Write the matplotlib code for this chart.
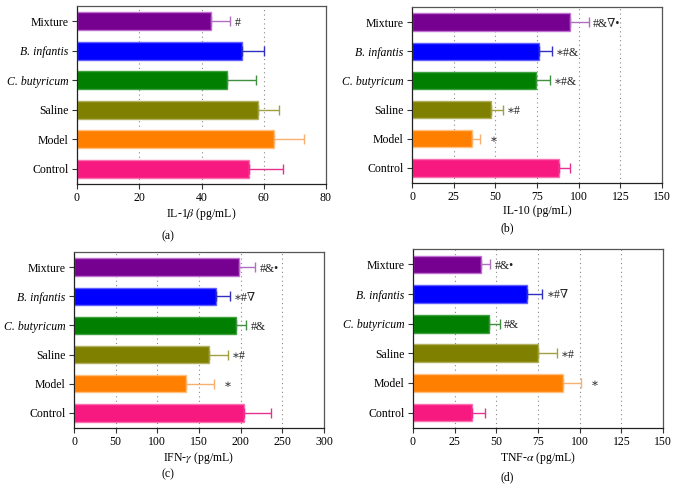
import matplotlib
matplotlib.use("Agg")
import matplotlib.pyplot as plt
import numpy as np

plt.rcParams['font.family'] = ['Liberation Serif', 'DejaVu Serif']
plt.rcParams['mathtext.fontset'] = 'stix'

categories = ["Control", "Model", "Saline", "C. butyricum", "B. infantis", "Mixture"]
italic_cats = ["C. butyricum", "B. infantis"]

bar_colors = ["#F7197F", "#FF8000", "#808000", "#007F00", "#0000FF", "#76008F"]
edge_colors = ["#F870B0", "#FFC080", "#B0B060", "#40A040", "#6060FF", "#C070D0"]
err_colors = ["#E83090", "#F8B070", "#A0A040", "#409040", "#3030C0", "#B070C0"]

il1b_vals = [55.2, 63.2, 58.2, 48.2, 53.1, 43.0]
il1b_err = [10.9, 9.7, 6.8, 9.3, 7.0, 6.3]
il1b_ann = ["", "", "", "", "", "#"]

il10_vals = [88.2, 36.2, 47.2, 74.4, 76.0, 95.0]
il10_err = [6.6, 4.4, 7.2, 8.2, 7.8, 11.2]
il10_ann = ["", "\u2217", "\u2217#", "\u2217#&", "\u2217#&", "#&\u2207\u2022"]

ifng_vals = [204.4, 134.4, 162.4, 194.8, 170.4, 198.0]
ifng_err = [31.6, 33.2, 22.0, 12.0, 16.8, 19.6]
ifng_ann = ["", "\u2217", "\u2217#", "#&", "\u2217#\u2207", "#&\u2022"]

tnfa_vals = [35.2, 90.2, 75.2, 45.4, 68.4, 40.8]
tnfa_err = [8.0, 10.4, 11.0, 6.8, 9.2, 5.6]
tnfa_ann = ["", "\u2217", "\u2217#", "#&", "\u2217#\u2207", "#&\u2022"]

fig = plt.figure(figsize=(6.78, 4.9), dpi=100)

panels = [
    dict(pos=[77/678, 1-184/490, 249/678, 178/490], vals=il1b_vals, err=il1b_err, ann=il1b_ann,
         xmax=80, ticks=[0, 20, 40, 60, 80], xlabel="IL-1$\\beta$ (pg/mL)", tag="(a)", tagxy=(168/678, 1-236/490)),
    dict(pos=[412/678, 1-183/490, 250/678, 176/490], vals=il10_vals, err=il10_err, ann=il10_ann,
         xmax=150, ticks=[0, 25, 50, 75, 100, 125, 150], xlabel="IL-10 (pg/mL)", tag="(b)", tagxy=(507/678, 1-228/490)),
    dict(pos=[74/678, 1-428/490, 250/678, 176/490], vals=ifng_vals, err=ifng_err, ann=ifng_ann,
         xmax=300, ticks=[0, 50, 100, 150, 200, 250, 300], xlabel="IFN-$\\gamma$ (pg/mL)", tag="(c)", tagxy=(168/678, 1-474/490)),
    dict(pos=[413/678, 1-428/490, 250/678, 179/490], vals=tnfa_vals, err=tnfa_err, ann=tnfa_ann,
         xmax=150, ticks=[0, 25, 50, 75, 100, 125, 150], xlabel="TNF-$\\alpha$ (pg/mL)", tag="(d)", tagxy=(507/678, 1-477/490)),
]

for p in panels:
    ax = fig.add_axes(p["pos"])
    y = np.arange(len(categories))
    ax.barh(y, p["vals"], height=0.6, color=bar_colors, edgecolor=edge_colors, linewidth=1.0, zorder=2)
    for i in range(len(categories)):
        ax.errorbar(p["vals"][i], y[i], xerr=[[0], [p["err"][i]]], fmt='none',
                    ecolor=err_colors[i], elinewidth=1.0, capsize=3.5, capthick=1.0, zorder=3)
        if p["ann"][i]:
            off = 7 if p["ann"][i] == "\u2217" else 3
            ax.annotate(p["ann"][i], xy=(p["vals"][i] + p["err"][i], y[i]), xytext=(off, -1),
                        textcoords='offset points', ha='left', va='center', fontsize=8.5,
                        family=['Liberation Serif', 'DejaVu Serif'], color='#222222')
    ax.set_xlim(0, p["xmax"])
    ax.set_ylim(-0.52, 5.52)
    ax.set_xticks(p["ticks"])
    ax.set_xticklabels([str(t) for t in p["ticks"]], fontsize=8.5)
    ax.set_yticks(y)
    ax.set_yticklabels(categories, fontsize=8.5)
    for lab in ax.get_yticklabels():
        if lab.get_text() in italic_cats:
            lab.set_fontstyle('italic')
    ax.xaxis.grid(True, linestyle=(0, (1, 3)), color='#888888', linewidth=0.8, zorder=0)
    ax.set_axisbelow(True)
    ax.tick_params(axis='both', direction='out', length=3.5, width=0.8, color='#333333', pad=2.5)
    for s in ['left', 'bottom']:
        ax.spines[s].set_color('#222222')
        ax.spines[s].set_linewidth(0.9)
    for s in ['top', 'right']:
        ax.spines[s].set_color('#555555')
        ax.spines[s].set_linewidth(0.9)
    ax.set_xlabel(p["xlabel"], fontsize=8.5, labelpad=1)
    fig.text(p["tagxy"][0], p["tagxy"][1], p["tag"], ha='center', va='center', fontsize=8.5)

fig.savefig("out.png", dpi=100)
